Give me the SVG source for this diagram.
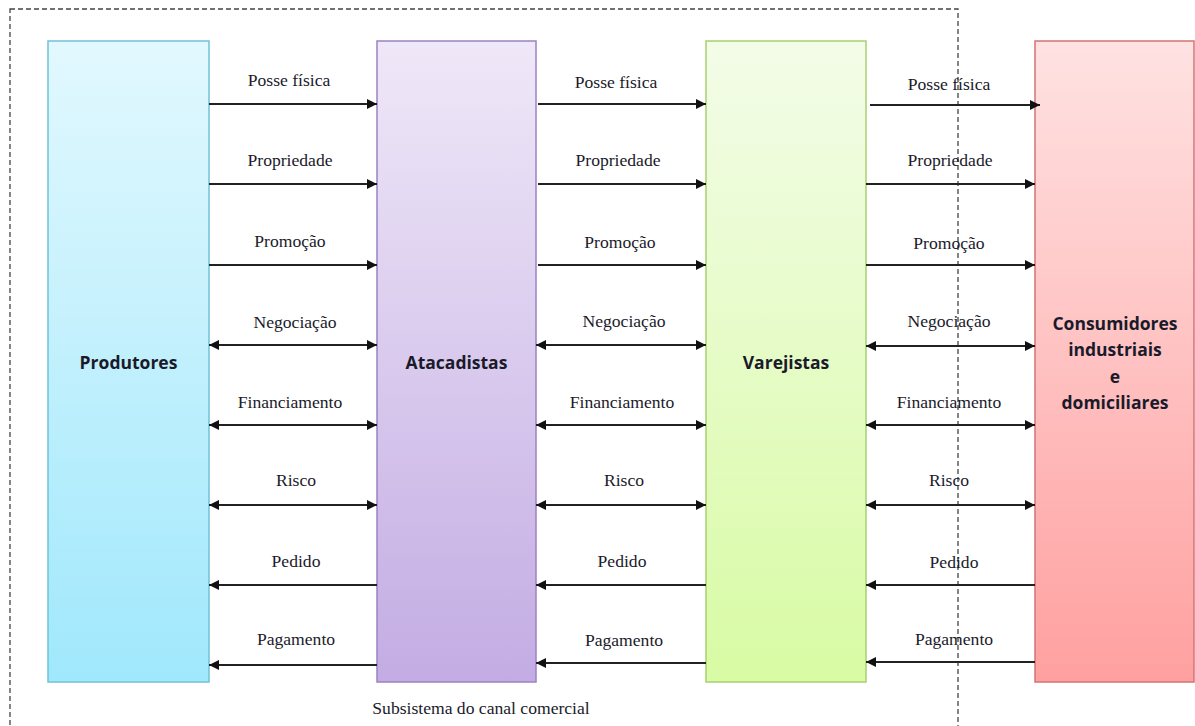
<svg xmlns="http://www.w3.org/2000/svg" width="1195" height="726" viewBox="0 0 1195 726">
<style>
.lbl{font-family:"Liberation Serif","Times New Roman",serif;font-size:17.6px;fill:#1a1a2a;text-anchor:middle}
.nm{font-family:"Open Sans","Liberation Sans",sans-serif;font-weight:bold;font-size:17.5px;fill:#1a1a2a;text-anchor:middle}
.c line{stroke:#222;stroke-width:2}
</style>
<defs>
<linearGradient id="g1" x1="0" y1="0" x2="0" y2="1"><stop offset="0" stop-color="#e2f8fe"/><stop offset="1" stop-color="#a0e8fc"/></linearGradient>
<linearGradient id="g2" x1="0" y1="0" x2="0" y2="1"><stop offset="0" stop-color="#efe8f8"/><stop offset="1" stop-color="#c3ace3"/></linearGradient>
<linearGradient id="g3" x1="0" y1="0" x2="0" y2="1"><stop offset="0" stop-color="#f3fce8"/><stop offset="1" stop-color="#d8fba4"/></linearGradient>
<linearGradient id="g4" x1="0" y1="0" x2="0" y2="1"><stop offset="0" stop-color="#ffe2e2"/><stop offset="1" stop-color="#ffa0a0"/></linearGradient>
<marker id="ae" viewBox="0 0 10 10" refX="10" refY="5" markerWidth="5.5" markerHeight="5" orient="auto-start-reverse" markerUnits="strokeWidth"><path d="M0,0L10,5L0,10z" fill="#111"/></marker>
</defs>
<rect x="10" y="9" width="948" height="730" fill="none" stroke="#444" stroke-width="1.3" stroke-dasharray="5,3"/>
<g id="produtores"><rect x="48" y="41" width="161" height="641" fill="url(#g1)" stroke="#70c2d8" stroke-width="1.5"/><text class="nm" x="128.5" y="369">Produtores</text></g>
<g id="atacadistas"><rect x="377" y="41" width="159" height="641" fill="url(#g2)" stroke="#9c82c2" stroke-width="1.5"/><text class="nm" x="456.5" y="369">Atacadistas</text></g>
<g id="varejistas"><rect x="706" y="41" width="160" height="641" fill="url(#g3)" stroke="#a8d070" stroke-width="1.5"/><text class="nm" x="786" y="369">Varejistas</text></g>
<g id="consumidores"><rect x="1035" y="41" width="159" height="641" fill="url(#g4)" stroke="#d27474" stroke-width="1.5"/><text class="nm" x="1115" y="330">Consumidores</text><text class="nm" x="1115" y="356">industriais</text><text class="nm" x="1115" y="383">e</text><text class="nm" x="1115" y="409">domiciliares</text></g>
<g id="connectors" class="c">
<line x1="209" y1="104" x2="377" y2="104" marker-end="url(#ae)"/>
<line x1="209" y1="184" x2="377" y2="184" marker-end="url(#ae)"/>
<line x1="209" y1="265" x2="377" y2="265" marker-end="url(#ae)"/>
<line x1="209" y1="345" x2="377" y2="345" marker-start="url(#ae)" marker-end="url(#ae)"/>
<line x1="209" y1="425" x2="377" y2="425" marker-start="url(#ae)" marker-end="url(#ae)"/>
<line x1="209" y1="505" x2="377" y2="505" marker-start="url(#ae)" marker-end="url(#ae)"/>
<line x1="209" y1="585" x2="377" y2="585" marker-start="url(#ae)"/>
<line x1="209" y1="665" x2="377" y2="665" marker-start="url(#ae)"/>
<line x1="538" y1="104" x2="706" y2="104" marker-end="url(#ae)"/>
<line x1="538" y1="184" x2="706" y2="184" marker-end="url(#ae)"/>
<line x1="538" y1="265" x2="706" y2="265" marker-end="url(#ae)"/>
<line x1="536" y1="345" x2="706" y2="345" marker-start="url(#ae)" marker-end="url(#ae)"/>
<line x1="536" y1="425" x2="706" y2="425" marker-start="url(#ae)" marker-end="url(#ae)"/>
<line x1="536" y1="505" x2="706" y2="505" marker-start="url(#ae)" marker-end="url(#ae)"/>
<line x1="536" y1="585" x2="706" y2="585" marker-start="url(#ae)"/>
<line x1="536" y1="663" x2="706" y2="663" marker-start="url(#ae)"/>
<line x1="870" y1="105" x2="1040" y2="105" marker-end="url(#ae)"/>
<line x1="866" y1="184" x2="1035" y2="184" marker-end="url(#ae)"/>
<line x1="866" y1="265" x2="1035" y2="265" marker-end="url(#ae)"/>
<line x1="866" y1="346" x2="1035" y2="346" marker-start="url(#ae)" marker-end="url(#ae)"/>
<line x1="866" y1="425" x2="1035" y2="425" marker-start="url(#ae)" marker-end="url(#ae)"/>
<line x1="866" y1="505" x2="1035" y2="505" marker-start="url(#ae)" marker-end="url(#ae)"/>
<line x1="866" y1="585" x2="1035" y2="585" marker-start="url(#ae)"/>
<line x1="866" y1="662" x2="1035" y2="662" marker-start="url(#ae)"/>
</g>
<g id="labels">
<text class="lbl" x="289" y="86">Posse física</text>
<text class="lbl" x="290" y="166">Propriedade</text>
<text class="lbl" x="290" y="247">Promoção</text>
<text class="lbl" x="295" y="328">Negociação</text>
<text class="lbl" x="290" y="408">Financiamento</text>
<text class="lbl" x="296" y="486">Risco</text>
<text class="lbl" x="296" y="567">Pedido</text>
<text class="lbl" x="296" y="645">Pagamento</text>
<text class="lbl" x="616" y="88">Posse física</text>
<text class="lbl" x="618" y="166">Propriedade</text>
<text class="lbl" x="620" y="248">Promoção</text>
<text class="lbl" x="624" y="327">Negociação</text>
<text class="lbl" x="622" y="408">Financiamento</text>
<text class="lbl" x="624" y="486">Risco</text>
<text class="lbl" x="622" y="567">Pedido</text>
<text class="lbl" x="624" y="646">Pagamento</text>
<text class="lbl" x="949" y="90">Posse física</text>
<text class="lbl" x="950" y="166">Propriedade</text>
<text class="lbl" x="949" y="249">Promoção</text>
<text class="lbl" x="949" y="327">Negociação</text>
<text class="lbl" x="949" y="408">Financiamento</text>
<text class="lbl" x="949" y="486">Risco</text>
<text class="lbl" x="954" y="568">Pedido</text>
<text class="lbl" x="954" y="645">Pagamento</text>
<text class="lbl" x="481" y="714">Subsistema do canal comercial</text>
</g>
</svg>
